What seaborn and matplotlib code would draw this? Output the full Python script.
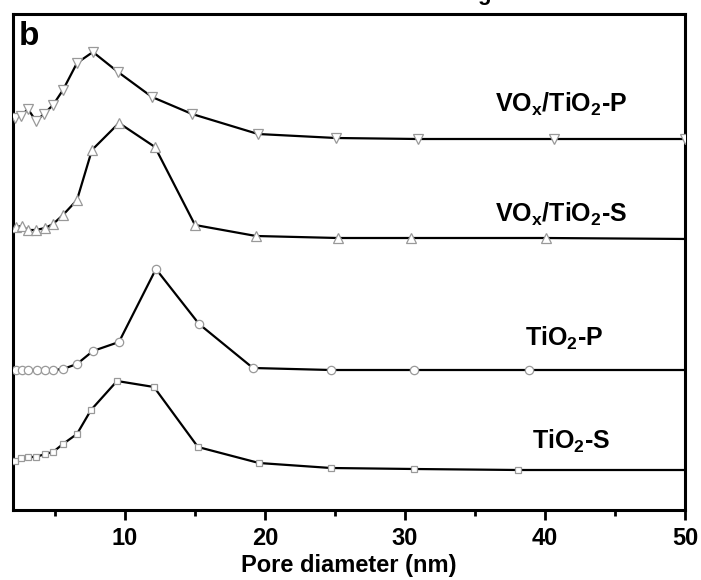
import numpy as np
import pandas as pd
import matplotlib
matplotlib.use("Agg")
import matplotlib.pyplot as plt
import seaborn as sns

# ---- data (pore diameter in nm, intensity in arbitrary offset units) ----
x_vp = [2.14, 2.57, 3.07, 3.64, 4.21, 4.86, 5.57, 6.57, 7.71, 9.5, 11.93, 14.79, 19.5, 25.07, 30.93, 40.64, 50.0]
y_vp = [392, 394, 401, 389, 396, 405, 420, 447, 458, 438, 413, 396, 376, 372, 371, 371, 371]

x_vs = [2.21, 2.64, 3.07, 3.64, 4.29, 4.86, 5.57, 6.57, 7.64, 9.57, 12.14, 15.0, 19.36, 25.2, 30.43, 40.07, 50.4]
y_vs = [283, 284, 280, 280, 282, 286, 295, 310, 360, 387, 363, 285, 274, 272, 272, 272, 271]

x_tp = [2.21, 2.64, 3.07, 3.71, 4.29, 4.86, 5.57, 6.57, 7.71, 9.57, 12.21, 15.29, 19.14, 24.71, 30.64, 38.86, 50.4]
y_tp = [140, 140, 140, 140, 140, 140, 141, 146, 159, 168, 241, 186, 142, 140, 140, 140, 140]

x_ts = [2.14, 2.57, 3.07, 3.64, 4.29, 4.86, 5.57, 6.57, 7.57, 9.43, 12.07, 15.21, 19.57, 24.71, 30.64, 38.07, 50.4]
y_ts = [49, 52, 53, 53, 56, 58, 66, 76, 100, 129, 123, 63, 47, 42, 41, 40, 40]

labels = [r'VO$_\mathbf{x}$/TiO$_\mathbf{2}$-P', r'VO$_\mathbf{x}$/TiO$_\mathbf{2}$-S',
          r'TiO$_\mathbf{2}$-P', r'TiO$_\mathbf{2}$-S']
x_ticks = [10, 20, 30, 40, 50]
x_label = "Pore diameter (nm)"
panel = "b"

sns.set_theme(style="white")
plt.rcParams['font.family'] = ['Liberation Sans', 'DejaVu Sans']
plt.rcParams['mathtext.fontset'] = 'custom'
plt.rcParams['mathtext.rm'] = 'Liberation Sans'
plt.rcParams['mathtext.bf'] = 'Liberation Sans:bold'
plt.rcParams['mathtext.it'] = 'Liberation Sans:italic'
plt.rcParams['text.color'] = 'black'
plt.rcParams['axes.labelcolor'] = 'black'
plt.rcParams['xtick.color'] = 'black'
plt.rcParams['ytick.color'] = 'black'

fig = plt.figure(figsize=(7.01, 5.80), dpi=100)
ax = fig.add_axes([13/701, (580-510)/580, (685-13)/701, (510-14)/580])

series = [
    (x_vp, y_vp, 'v', 7),
    (x_vs, y_vs, '^', 7),
    (x_tp, y_tp, 'o', 6),
    (x_ts, y_ts, 's', 5),
]
for xs, ys, mk, ms in series:
    sns.lineplot(x=xs, y=ys, ax=ax, color='black', lw=1.6, marker=mk, markersize=ms,
                 markerfacecolor='white', markeredgecolor='#999999', markeredgewidth=0.9,
                 estimator=None, sort=False, zorder=3)

ax.set_xlim(2, 50)
ax.set_ylim(0, 496)
ax.set_yticks([])
ax.set_xticks(x_ticks)
ax.set_xticks([5, 15, 25, 35, 45], minor=True)
ax.tick_params(axis='x', which='major', direction='out', length=7, width=2, bottom=True,
               labelsize=17, pad=5, colors='black')
ax.tick_params(axis='x', which='minor', direction='out', length=4, width=2, bottom=True)
for lab in ax.get_xticklabels():
    lab.set_fontweight('bold')
for sp in ax.spines.values():
    sp.set_linewidth(2.2)
    sp.set_color('black')
ax.set_xlabel(x_label, fontsize=17, fontweight='bold', labelpad=3, color='black')
ax.set_ylabel('')

# series labels (pixel positions converted to data coords)
label_pos = [(561, 112), (561, 222), (564, 346), (571, 449)]
for (px, py), txt in zip(label_pos, labels):
    xd = 2 + (px - 13) / 14
    yd = 510 - py
    ax.text(xd, yd, txt, ha='center', va='baseline', fontsize=18, fontweight='bold',
            color='black')

ax.text(0.008, 0.985, panel, transform=ax.transAxes, ha='left', va='top',
        fontsize=24, fontweight='bold', color='black')

# cut-off descender from text above the figure (as in the reference)
fig.text(484/701, 1.0, 'g', ha='center', va='baseline', fontsize=16, fontweight='bold',
         color='black')

fig.savefig('out.png', dpi=100)
